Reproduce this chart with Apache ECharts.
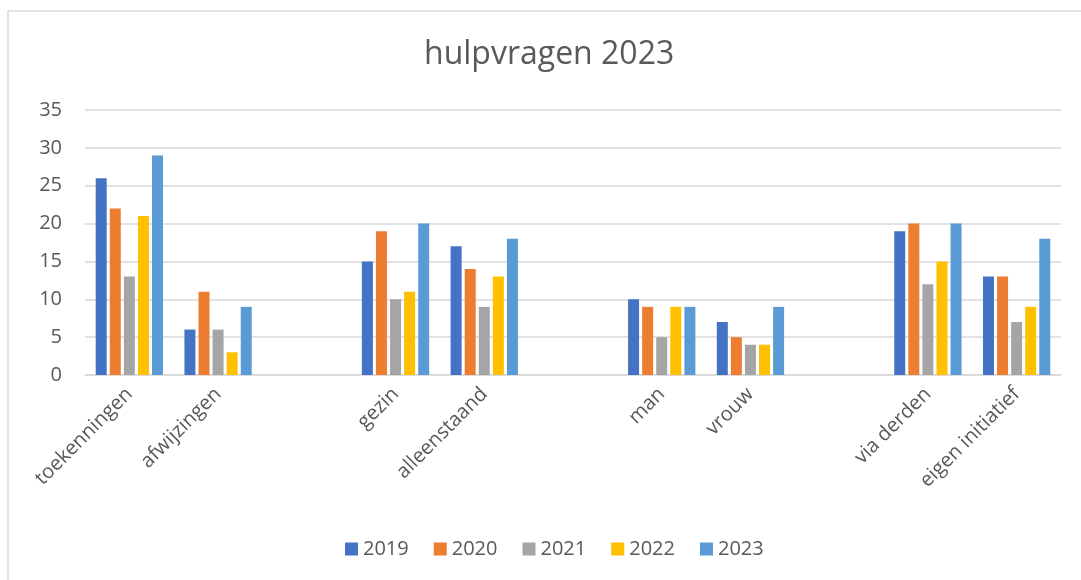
<!DOCTYPE html>
<html>
<head>
<meta charset="utf-8">
<script src="https://cdn.jsdelivr.net/npm/echarts@6/dist/echarts.min.js"></script>
<style>
  html, body { margin: 0; padding: 0; background: #fff; }
  #chart { width: 1081px; height: 580px; }
</style>
</head>
<body>
<div id="chart"></div>
<script>
// categorieen (lege plekken als scheiding tussen de groepen)
const categories = ["toekenningen", "afwijzingen", " ", "gezin", "alleenstaand", "  ", "man", "vrouw", "   ", "via derden", "eigen initiatief"];
const years = ["2019", "2020", "2021", "2022", "2023"];
const v2019 = [26, 6, null, 15, 17, null, 10, 7, null, 19, 13];
const v2020 = [22, 11, null, 19, 14, null, 9, 5, null, 20, 13];
const v2021 = [13, 6, null, 10, 9, null, 5, 4, null, 12, 7];
const v2022 = [21, 3, null, 11, 13, null, 9, 4, null, 15, 9];
const v2023 = [29, 9, null, 20, 18, null, 9, 9, null, 20, 18];
const yTicks = [0, 5, 10, 15, 20, 25, 30, 35];

const colors = ["#4472C4", "#ED7D31", "#A5A5A5", "#FFC000", "#5B9BD5"];
const values = [v2019, v2020, v2021, v2022, v2023];
const font = "'Open Sans', 'Liberation Sans', sans-serif";

const series = years.map((y, i) => ({
  name: y,
  type: "bar",
  data: values[i],
  barWidth: 11,
  barGap: "28%",
  itemStyle: { color: colors[i] }
}));

const chart = echarts.init(document.getElementById("chart"));
chart.setOption({
  animation: false,
  color: colors,
  title: {
    text: "hulpvragen 2023",
    left: 419,
    top: 34,
    textStyle: { fontFamily: font, fontSize: 32, fontWeight: "normal", color: "#595959" }
  },
  graphic: [{
    type: "rect",
    shape: { x: 8, y: 11, width: 1200, height: 700 },
    style: { fill: "none", stroke: "#d9d9d9", lineWidth: 1.5 },
    silent: true,
    z: -1
  }],
  legend: {
    bottom: 16,
    left: 340,
    itemWidth: 13,
    itemHeight: 13,
    itemGap: 25,
    icon: "rect",
    textStyle: { fontFamily: font, fontSize: 20, color: "#595959" },
    data: years
  },
  grid: { left: 85, right: 20, top: 110, bottom: 205, containLabel: false },
  xAxis: {
    type: "category",
    data: categories,
    axisLine: { lineStyle: { color: "#d9d9d9", width: 1.5 } },
    axisTick: { show: false },
    axisLabel: {
      rotate: 45,
      interval: 0,
      margin: 16,
      fontFamily: font,
      fontSize: 20,
      color: "#595959"
    }
  },
  yAxis: {
    type: "value",
    min: yTicks[0],
    max: yTicks[yTicks.length - 1],
    interval: 5,
    axisLine: { show: false },
    axisTick: { show: false },
    axisLabel: { margin: 23, fontFamily: font, fontSize: 20, color: "#595959" },
    splitLine: { lineStyle: { color: "#d9d9d9", width: 1.5 } }
  },
  series: series
});
window.addEventListener("resize", function () {
  chart.resize();
});
</script>
</body>
</html>
